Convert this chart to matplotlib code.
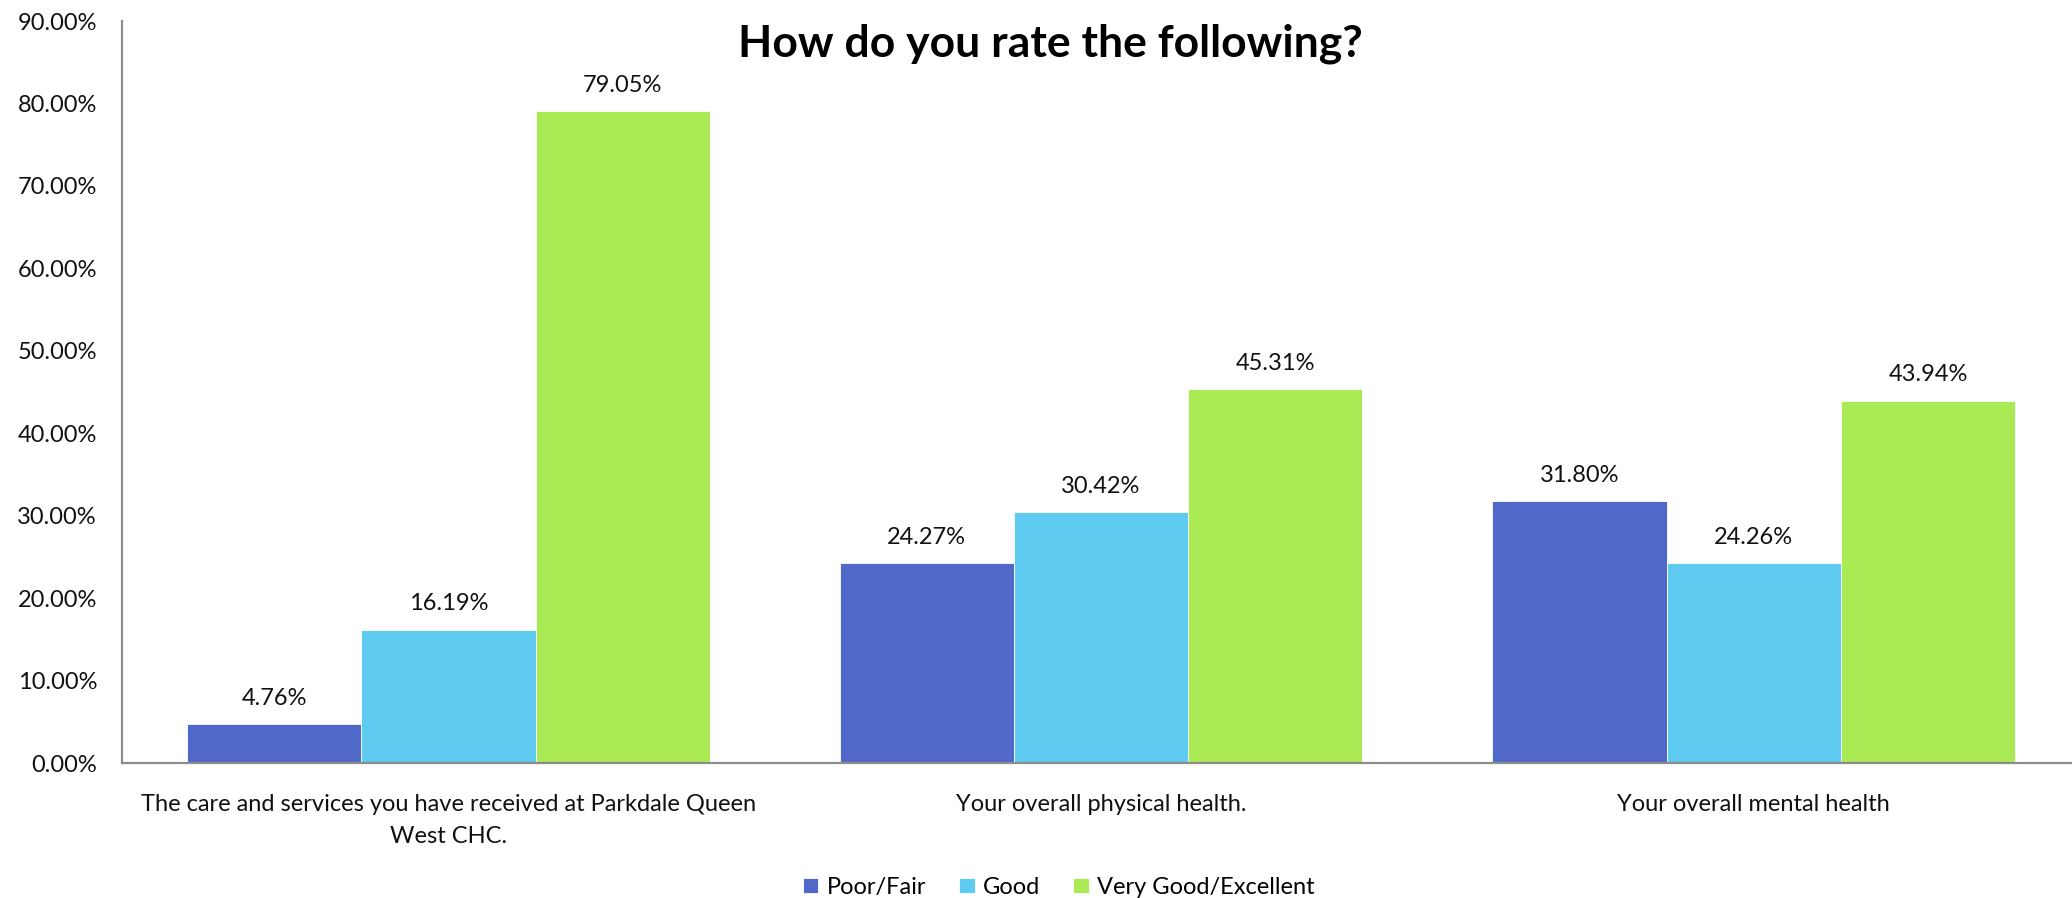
import numpy as np
import matplotlib.pyplot as plt

# survey results (%), one list per rating
categories = ['The care and services you have received at Parkdale Queen\nWest CHC.',
              'Your overall physical health.',
              'Your overall mental health']
poor_fair = [4.76, 24.27, 31.80]
good = [16.19, 30.42, 24.26]
very_good = [79.05, 45.31, 43.94]
series_names = ['Poor/Fair', 'Good', 'Very Good/Excellent']
colors = ['#5068C8', '#5FCBF1', '#A9EA55']

plt.rcParams['font.family'] = ['Lato', 'DejaVu Sans']

fig = plt.figure(figsize=(20.72, 8.98), dpi=100)
ax = fig.add_axes([0.0589, 0.1503, 0.945, 0.8263])

x = np.arange(len(categories))
w = 0.267
for k, (vals, name, c) in enumerate(zip([poor_fair, good, very_good], series_names, colors)):
    bars = ax.bar(x + (k - 1) * w, vals, width=w, color=c, edgecolor='white', linewidth=0.6, label=name)
    for b, v in zip(bars, vals):
        ax.annotate('{0:.2f}%'.format(v), (b.get_x() + b.get_width() / 2, v),
                    xytext=(0, 11), textcoords='offset points',
                    ha='center', va='bottom', fontsize=17, color='#111111')

ax.set_xlim(-0.5, 2.5)
ax.set_ylim(0, 90)
ax.set_yticks(np.arange(0, 91, 10))
ax.set_yticklabels(['{0:.2f}%'.format(t) for t in np.arange(0, 91, 10)])
ax.set_xticks(x)
ax.set_xticklabels(categories, linespacing=1.65)
ax.tick_params(axis='y', length=0, pad=18, labelsize=17, labelcolor='#111111')
ax.tick_params(axis='x', length=0, pad=22, labelsize=17, labelcolor='#111111')

for s in ['top', 'right']:
    ax.spines[s].set_visible(False)
for s in ['left', 'bottom']:
    ax.spines[s].set_color('#8C8C8C')
    ax.spines[s].set_linewidth(1.6)

fig.text(0.507, 0.937, 'How do you rate the following?', ha='center', va='baseline',
         fontsize=32, fontweight='bold', color='black')

fig.legend(loc='center', bbox_to_anchor=(0.511, 0.012), ncol=3, frameon=False,
           fontsize=17, handlelength=0.65, handleheight=0.65, handletextpad=0.35,
           columnspacing=1.4)

fig.savefig('out.png', dpi=100)
